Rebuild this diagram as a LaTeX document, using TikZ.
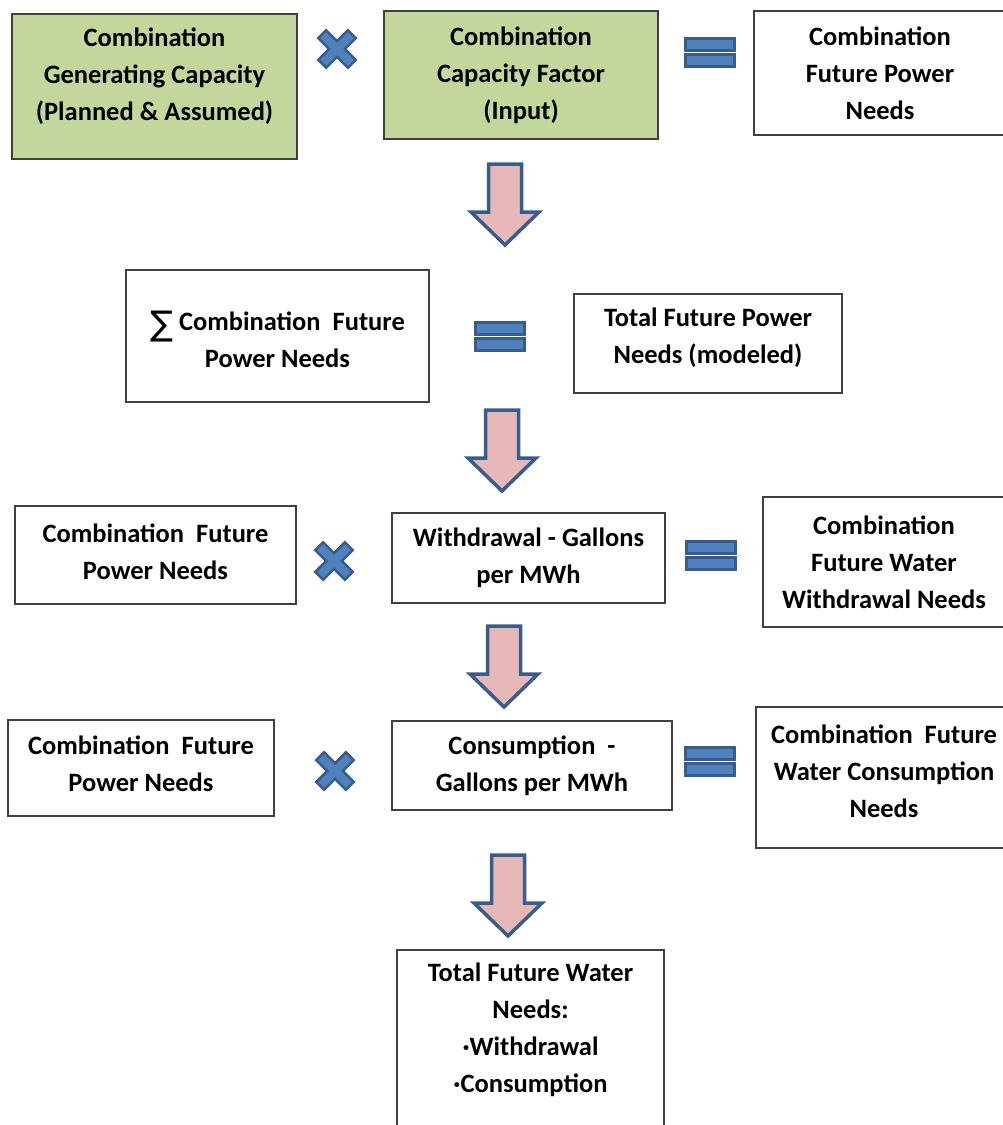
\documentclass[tikz,border=0pt]{standalone}
\usepackage{fontspec}
\setmainfont{Carlito}
\newfontfamily\sumfont{DejaVu Sans}
\usepackage{tikz}
\definecolor{boxgreen}{HTML}{C3D69B}
\definecolor{opblue}{HTML}{4F81BD}
\definecolor{opedge}{HTML}{385D8A}
\definecolor{arrowpink}{HTML}{E6B9B8}
\tikzstyle{box} = [rectangle, draw=black!75, line width=2pt, fill=white, align=center, inner sep=0pt, font=\bfseries\fontsize{26.5}{37}\selectfont]
\tikzstyle{greenbox} = [box, fill=boxgreen]
\tikzstyle{blockarrow} = [draw=opedge, line width=3.5pt, fill=arrowpink, line join=miter]
\tikzstyle{opsign} = [draw=opedge, line width=2.5pt, fill=opblue, line join=miter]
\newcommand{\timesop}[1]{\draw[opsign, shift={(#1)}, rotate=45] (5.5,5.5) -- (5.5,21) -- (-5.5,21) -- (-5.5,5.5) -- (-21,5.5) -- (-21,-5.5) -- (-5.5,-5.5) -- (-5.5,-21) -- (5.5,-21) -- (5.5,-5.5) -- (21,-5.5) -- (21,5.5) -- cycle;}
\newcommand{\equalsop}[1]{\draw[opsign, line width=3pt, shift={(#1)}] (-24.5,-14) rectangle (24.5,-2) (-24.5,2) rectangle (24.5,14);}
\newcommand{\blockdown}[1]{\draw[blockarrow] (#1) ++(-16.5,0) -- ++(0,48) -- ++(-17.5,0) -- ++(34,33) -- ++(34,-33) -- ++(-17.5,0) -- ++(0,-48) -- cycle;}
\newcommand{\sumsign}{\raisebox{-5pt}{\sumfont\mdseries\fontsize{34}{37}\selectfont ∑}}

\begin{document}
\begin{tikzpicture}[x=1pt, y=-1pt]
        \useasboundingbox (0,0) rectangle (1003,1125);
        \clip (0,0) rectangle (1003,1125);

        % first row
        \node (gencap) [greenbox, minimum width=285pt, minimum height=145pt] at (154.5,86.5) {Combination\\Generating Capacity\\(Planned \& Assumed)\rule[-25pt]{0pt}{25pt}};
        \node (capfactor) [greenbox, minimum width=274pt, minimum height=128pt] at (521,75) {Combination\\Capacity Factor\\(Input)};
        \node (powerneeds) [box, minimum width=252pt, minimum height=124pt] at (880,73) {Combination\\Future Power\\Needs};
        \coordinate (times1) at (337,49);
        \coordinate (equals1) at (709.5,52.5);
        \timesop{times1}
        \equalsop{equals1}

        % second row
        \node (sumpower) [box, minimum width=303pt, minimum height=132pt] at (277.5,336) {\rule{0pt}{27pt}\sumsign\ Combination~~Future\\Power Needs};
        \node (totalpower) [box, minimum width=268pt, minimum height=99pt] at (708,343.5) {Total Future Power\\Needs (modeled)\rule[-16pt]{0pt}{16pt}};
        \coordinate (equals2) at (499.5,336.5);
        \equalsop{equals2}

        % third row
        \node (futpower1) [box, minimum width=281pt, minimum height=98pt] at (155.5,555) {Combination~~Future\\Power Needs\rule[-7pt]{0pt}{7pt}};
        \node (withdrawal) [box, minimum width=273pt, minimum height=90pt] at (528.5,558) {Withdrawal - Gallons\\per MWh};
        \node (withneeds) [box, minimum width=242pt, minimum height=130pt] at (884,562) {Combination\\Future Water\\Withdrawal Needs};
        \coordinate (times2) at (334,561);
        \coordinate (equals3) at (710.5,555.5);
        \timesop{times2}
        \equalsop{equals3}

        % fourth row
        \node (futpower2) [box, minimum width=266pt, minimum height=96pt] at (141,768) {Combination~~Future\\Power Needs\rule[-9pt]{0pt}{9pt}};
        \node (consumption) [box, minimum width=280pt, minimum height=89pt] at (532,765.5) {Consumption~~-\\Gallons per MWh};
        \node (consneeds) [box, minimum width=256pt, minimum height=141pt] at (884,777.5) {Combination~~Future\\Water Consumption\\Needs\rule[-13pt]{0pt}{13pt}};
        \coordinate (times3) at (335,771);
        \coordinate (equals4) at (710,761);
        \timesop{times3}
        \equalsop{equals4}

        % result
        \node (totalwater) [box, minimum width=267pt, minimum height=180pt] at (530.5,1040) {Total Future Water\\Needs:\\·Withdrawal\\·Consumption\rule[-25pt]{0pt}{25pt}};

        % block arrows between the rows
        \coordinate (down1) at (505,164);
        \coordinate (down2) at (502,410);
        \coordinate (down3) at (504,626);
        \coordinate (down4) at (508,855);
        \blockdown{down1}
        \blockdown{down2}
        \blockdown{down3}
        \blockdown{down4}

\end{tikzpicture}
\end{document}
